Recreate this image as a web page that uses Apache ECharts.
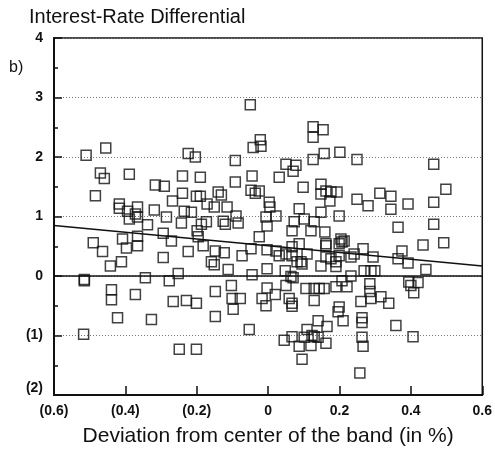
<!DOCTYPE html>
<html>
<head>
<meta charset="utf-8">
<script src="https://cdn.jsdelivr.net/npm/echarts@6/dist/echarts.min.js"></script>
<style>
html,body{margin:0;padding:0;background:#fff;}
#chart{width:495px;height:452px;}
</style>
</head>
<body>
<div id="chart"></div>
<script>
// Deviation from center of the band (in %)
const deviation = [
-0.51,-0.455,-0.47,-0.459,-0.389,-0.316,-0.291,-0.24,-0.24,-0.484,-0.224,-0.268,
-0.417,-0.417,-0.394,-0.366,-0.372,-0.389,-0.366,-0.338,-0.319,-0.285,-0.243,-0.235,
-0.49,-0.464,-0.408,-0.397,-0.366,-0.366,-0.294,-0.271,-0.294,-0.224,-0.442,-0.411,
-0.515,-0.515,-0.344,-0.277,-0.252,-0.439,-0.439,-0.372,-0.266,-0.229,-0.422,-0.327,
-0.517,-0.249,
-0.05,-0.022,-0.042,-0.020,-0.204,-0.092,0.126,0.154,0.126,0.157,0.126,0.05,0.078,0.07,
-0.19,-0.092,-0.045,0.031,0.098,0.148,-0.14,-0.131,-0.201,-0.19,-0.048,-0.036,-0.025,0.148,0.162,
0.003,0.005,-0.215,-0.171,-0.151,-0.115,0.087,0.148,-0.173,-0.187,-0.126,-0.12,-0.09,-0.084,
-0.006,0.022,-0.003,0.073,0.101,0.129,0.12,0.159,0.067,-0.199,-0.196,-0.025,0.087,0.162,
-0.182,-0.148,-0.123,-0.073,-0.048,-0.003,0.022,0.031,0.05,0.067,0.067,0.081,0.092,0.095,
0.109,0.148,0.162,-0.159,-0.151,-0.112,-0.045,-0.003,0.048,0.064,0.07,-0.103,-0.148,-0.003,
0.05,0.02,0.106,0.129,0.143,0.157,-0.201,-0.101,-0.078,-0.017,-0.006,0.129,0.059,
-0.098,0.067,0.067,-0.148,-0.053,0.14,0.165,0.109,0.067,0.045,0.101,0.123,0.129,0.14,0.12,
0.087,0.162,-0.201,0.095,
0.201,0.249,0.464,0.498,0.176,0.193,0.249,0.313,0.344,0.464,
0.173,0.28,0.344,0.392,0.199,0.364,0.464,0.204,0.213,0.207,0.199,0.162,0.375,0.434,0.492,
0.266,0.241,0.294,0.232,0.199,0.176,0.19,0.19,0.364,0.392,0.442,0.232,0.269,0.288,0.299,
0.19,0.221,0.207,0.285,0.285,0.316,0.26,0.288,0.338,0.394,0.4,0.42,0.408,0.199,
0.196,0.21,0.263,0.263,0.358,0.263,0.266,0.406,0.257
];
// Interest-rate differential
const differential = [
2.03,2.15,1.73,1.64,1.71,1.53,1.51,1.68,1.39,1.35,2.06,1.26,
1.21,1.14,1.09,1.16,1.04,0.96,0.99,0.86,1.11,0.99,0.89,1.09,
0.56,0.41,0.62,0.47,0.51,0.67,0.72,0.59,0.31,0.41,0.17,0.24,
-0.08,-0.06,-0.03,-0.08,0.04,-0.23,-0.40,-0.31,-0.43,-0.41,-0.70,-0.73,
-0.98,-1.23,
2.88,2.29,2.16,2.18,2.0,1.94,2.51,2.46,2.33,2.06,1.96,1.88,1.86,1.76,
1.66,1.58,1.68,1.66,1.49,1.54,1.41,1.36,1.34,1.34,1.44,1.39,1.43,1.38,1.43,
1.24,1.16,1.07,1.21,1.16,1.16,1.13,1.07,0.91,0.87,0.92,0.87,1.01,0.89,
0.99,1.01,0.84,0.91,0.96,0.91,0.76,0.74,0.76,0.76,0.66,0.66,0.54,0.54,
0.51,0.42,0.39,0.34,0.46,0.44,0.42,0.34,0.37,0.49,0.34,0.24,0.24,0.20,
0.37,0.17,0.32,0.24,0.19,0.11,0.02,0.12,0.09,-0.01,-0.03,-0.16,-0.26,-0.2,
-0.16,-0.31,-0.21,-0.21,-0.21,-0.21,-0.46,-0.38,-0.38,-0.38,-0.5,-0.41,-0.38,
-0.56,-0.46,-0.51,-0.68,-0.9,-0.75,-0.85,-0.9,-1.02,-1.08,-1.03,-1.0,-1.02,-1.03,-1.17,
-1.18,-1.13,-1.23,-1.40,
2.08,1.96,1.88,1.46,1.41,1.41,1.29,1.39,1.34,1.24,
1.26,1.18,1.12,1.21,1.01,0.82,0.87,0.62,0.59,0.57,0.54,0.51,0.42,0.52,0.56,
0.46,0.37,0.32,0.32,0.34,0.29,0.24,0.16,0.29,0.22,0.11,0.0,0.09,0.09,0.09,
-0.18,-0.18,-0.08,-0.13,-0.26,-0.35,-0.43,-0.38,-0.46,-0.1,-0.16,-0.11,-0.28,-0.52,
-0.6,-0.75,-0.7,-0.78,-0.83,-1.03,-1.18,-1.02,-1.63
];
// Fitted regression line endpoints
const fitX = [-0.6, 0.6];
const fitY = [0.85, 0.17];
// Tick labels
const xTicks = [-0.6, -0.4, -0.2, 0, 0.2, 0.4, 0.6];
const xTickLabels = ['(0.6)', '(0.4)', '(0.2)', '0', '0.2', '0.4', '0.6'];
const yTicks = [-2, -1, 0, 1, 2, 3, 4];
const yTickLabels = ['(2)', '(1)', '0', '1', '2', '3', '4'];

function lookup(ticks, labels, v) {
  let best = 0, bd = Infinity;
  ticks.forEach((t, i) => { const d = Math.abs(t - v); if (d < bd) { bd = d; best = i; } });
  return bd < 1e-6 ? labels[best] : '';
}

const points = deviation.map((x, i) => [x, differential[i]]);
const fitLine = fitX.map((x, i) => [x, fitY[i]]);

const FONT = 'Liberation Sans, Arial, Helvetica, sans-serif';
const chart = echarts.init(document.getElementById('chart'), null, { renderer: 'canvas' });
chart.setOption({
  animation: false,
  backgroundColor: '#fff',
  title: {
    text: 'Interest-Rate Differential',
    left: 24, top: 2,
    textStyle: { fontFamily: FONT, fontSize: 20, fontWeight: 'normal', color: '#111' }
  },
  graphic: [{
    type: 'text', left: 9, top: 60,
    style: { text: 'b)', fontFamily: FONT, fontSize: 16, fill: '#111' }
  }],
  grid: { left: 54, right: 12, top: 38, bottom: 55, show: true, borderColor: '#111', borderWidth: 1.5, backgroundColor: 'transparent' },
  xAxis: {
    type: 'value', min: -0.6, max: 0.6, interval: 0.2,
    name: 'Deviation from center of the band (in %)',
    nameLocation: 'middle', nameGap: 31,
    nameTextStyle: { fontFamily: FONT, fontSize: 21, color: '#111' },
    axisLine: { show: true, onZero: false, lineStyle: { color: '#111', width: 2 } },
    axisTick: { show: true, inside: true, length: 9, lineStyle: { color: '#111', width: 1.5 } },
    axisLabel: { margin: 9, fontFamily: FONT, fontSize: 14, fontWeight: 'bold', color: '#111',
      formatter: v => lookup(xTicks, xTickLabels, v) },
    splitLine: { show: false }
  },
  yAxis: {
    type: 'value', min: -2, max: 4, interval: 1,
    axisLine: { show: true, onZero: false, lineStyle: { color: '#111', width: 2 } },
    axisTick: { show: true, inside: true, length: 8, lineStyle: { color: '#111', width: 1.5 } },
    minorTick: { show: true, splitNumber: 2, length: 4, lineStyle: { color: '#111', width: 1.5 } },
    axisLabel: { margin: 11, fontFamily: FONT, fontSize: 14, fontWeight: 'bold', color: '#111',
      verticalAlignMinLabel: 'bottom', verticalAlignMaxLabel: 'middle',
      formatter: v => lookup(yTicks, yTickLabels, v) },
    splitLine: { show: true, lineStyle: { color: '#777', width: 1, type: [1, 2] } }
  },
  series: [
    {
      type: 'scatter', data: points, symbol: 'rect', symbolSize: 10,
      itemStyle: { color: 'rgba(255,255,255,0)', borderColor: '#111', borderWidth: 1.5 },
      markLine: {
        silent: true, symbol: 'none', label: { show: false },
        lineStyle: { color: '#111', width: 1.5, type: 'solid' },
        data: [{ yAxis: 0 }]
      },
      z: 3
    },
    {
      type: 'line', data: fitLine, symbol: 'none',
      lineStyle: { color: '#111', width: 1.5 }, z: 4
    }
  ]
});
</script>
</body>
</html>
